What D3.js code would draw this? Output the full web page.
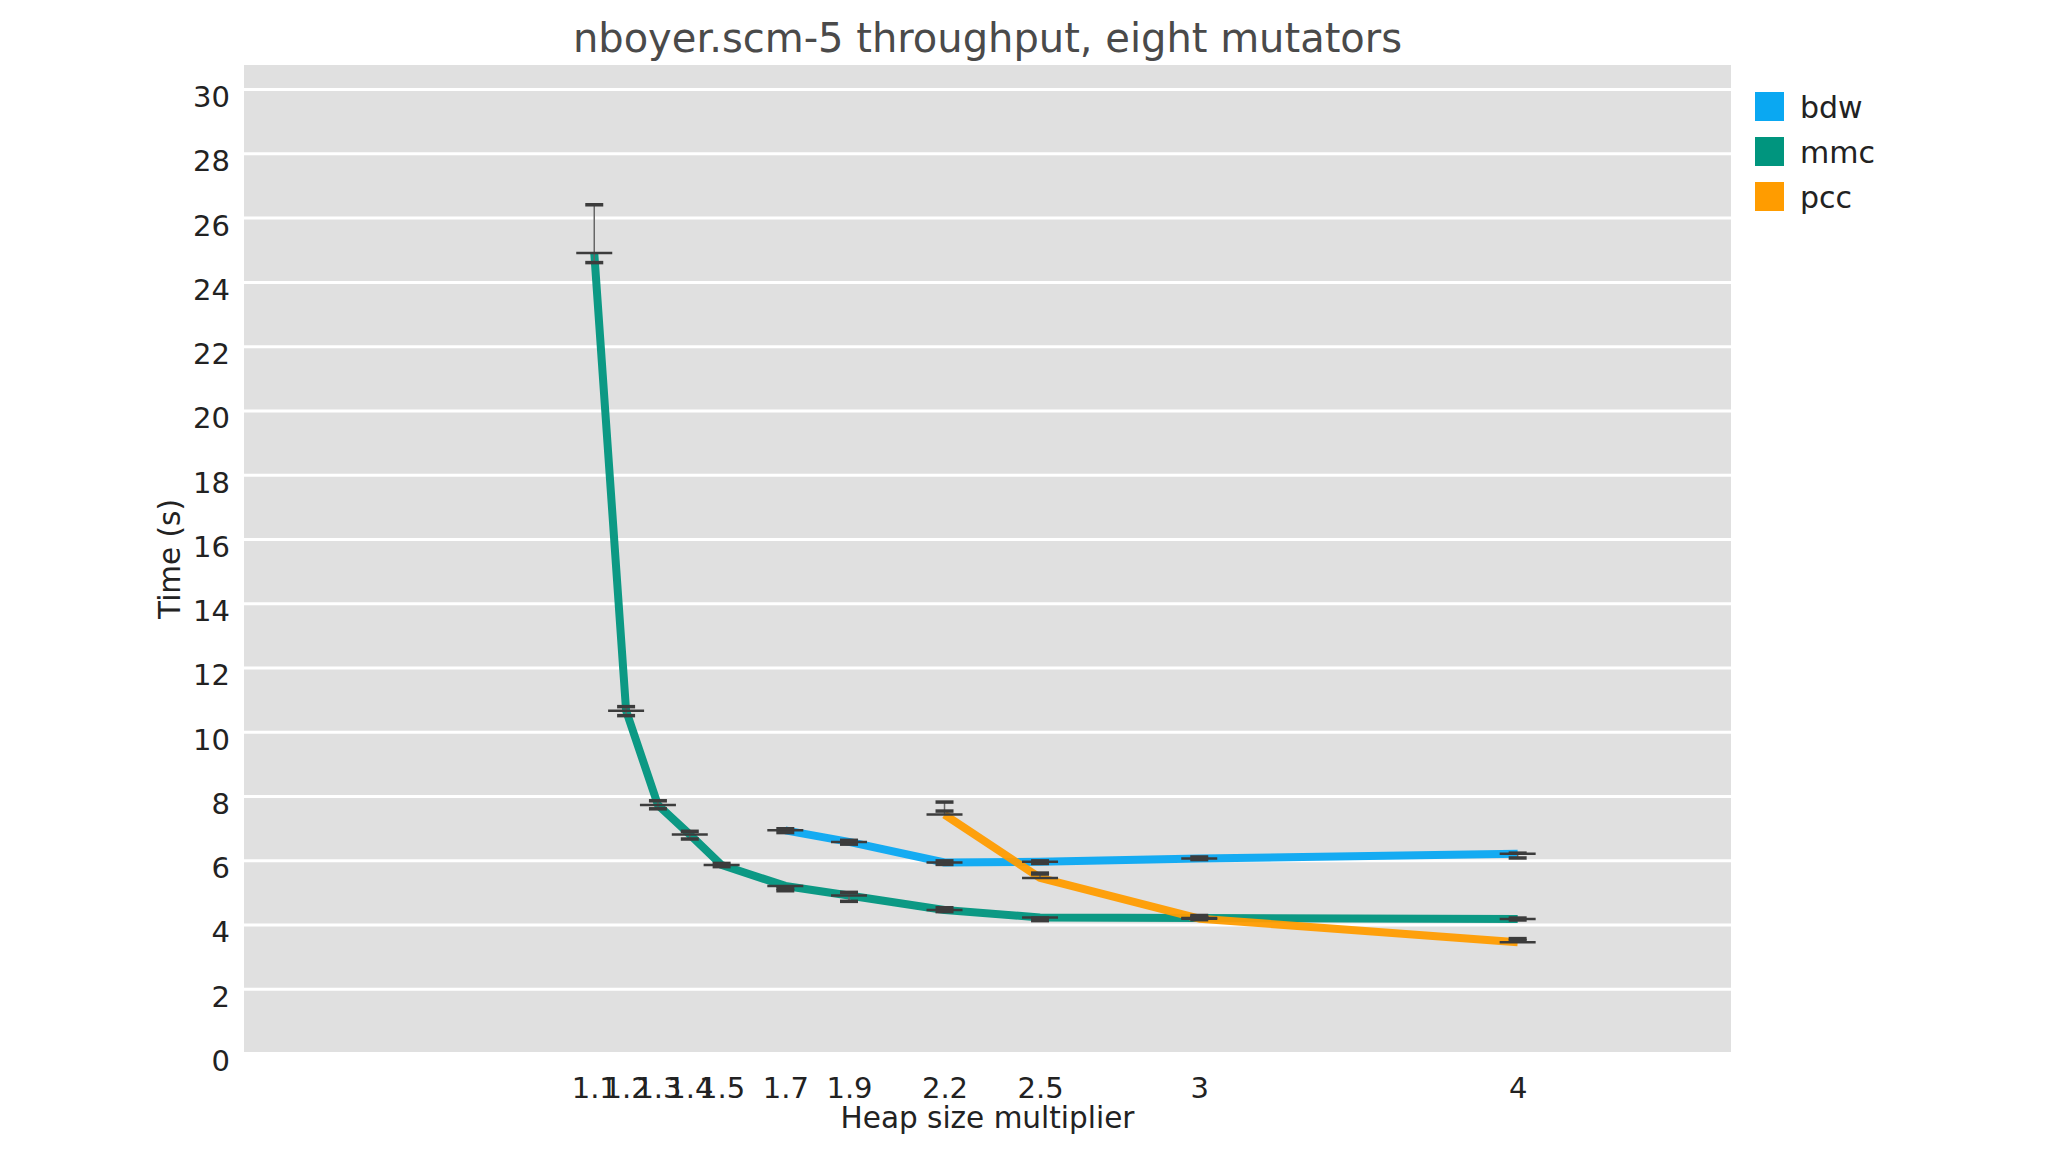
<!DOCTYPE html>
<meta charset="utf-8">
<style>
  body { margin: 0; background: #fff; }
  text { font-family: "DejaVu Sans", sans-serif; }
  .grid line { stroke: #fff; stroke-width: 3; }
  .grid path { display: none; }
  .axis path, .axis line { display: none; }
  .axis text { font-size: 29px; fill: #222; }
</style>
<body>
<script src="https://d3js.org/d3.v7.min.js"></script>
<script>

// Chart data
const heapSizes = [1.1, 1.2, 1.3, 1.4, 1.5, 1.7, 1.9, 2.2, 2.5, 3, 4];
const xTickLabels = ["1.1", "1.2", "1.3", "1.4", "1.5", "1.7", "1.9", "2.2", "2.5", "3", "4"];
const yTicks = [0, 2, 4, 6, 8, 10, 12, 14, 16, 18, 20, 22, 24, 26, 28, 30];

const seriesNames = ["bdw", "mmc", "pcc"];

const bdwX  = [1.7, 1.9, 2.2, 2.5, 3, 4];
const bdwY  = [6.93, 6.57, 5.93, 5.95, 6.05, 6.2];
const bdwLo = [6.86, 6.5, 5.87, 5.9, 6.02, 6.07];
const bdwHi = [6.98, 6.62, 5.98, 5.98, 6.1, 6.22];

const mmcX  = heapSizes;
const mmcY  = [24.9, 10.65, 7.72, 6.8, 5.85, 5.2, 4.9, 4.45, 4.22, 4.2, 4.17];
const mmcLo = [24.6, 10.5, 7.6, 6.66, 5.8, 5.05, 4.72, 4.4, 4.12, 4.15, 4.14];
const mmcHi = [26.4, 10.78, 7.85, 6.9, 5.9, 5.12, 5.0, 4.52, 4.2, 4.22, 4.2];

const pccX  = [2.2, 2.5, 3, 4];
const pccY  = [7.42, 5.45, 4.18, 3.45];
const pccLo = [7.53, 5.57, 4.22, 3.5];
const pccHi = [7.81, 5.6, 4.28, 3.56];

const colors = ["#0aa8f2", "#00957e", "#ff9c00"];

// Layout
const W = 2048, H = 1152;
const plot = {left: 244, top: 65, right: 1731, bottom: 1053};

const x = d3.scaleLinear().domain([0, 4.67]).range([plot.left, plot.right]);
const y = d3.scaleLinear().domain([0, 30.75]).range([plot.bottom, plot.top]);

const svg = d3.select("body").append("svg")
    .attr("width", W)
    .attr("height", H);

svg.append("rect")
    .attr("x", plot.left)
    .attr("y", plot.top)
    .attr("width", plot.right - plot.left)
    .attr("height", plot.bottom - plot.top)
    .attr("fill", "#e0e0e0");

// horizontal grid lines
svg.append("g")
    .attr("class", "grid")
    .attr("transform", "translate(" + plot.left + ",0)")
    .call(d3.axisLeft(y).tickValues(yTicks).tickSize(-(plot.right - plot.left)).tickFormat(""));

// y axis labels
svg.append("g")
    .attr("class", "axis")
    .attr("transform", "translate(" + (plot.left - 4) + ",3)")
    .call(d3.axisLeft(y).tickValues(yTicks).tickSize(0).tickPadding(10))
    .selectAll("text").attr("dy", "0.5em");

// x axis labels
svg.append("g")
    .attr("class", "axis")
    .attr("transform", "translate(0," + plot.bottom + ")")
    .call(d3.axisBottom(x).tickValues(heapSizes).tickSize(0).tickPadding(24)
        .tickFormat((d, i) => xTickLabels[i]));

// series
const series = [
    {name: seriesNames[0], xs: bdwX, ys: bdwY, lo: bdwLo, hi: bdwHi},
    {name: seriesNames[1], xs: mmcX, ys: mmcY, lo: mmcLo, hi: mmcHi},
    {name: seriesNames[2], xs: pccX, ys: pccY, lo: pccLo, hi: pccHi}
];

const line = d3.line()
    .x(d => x(d.x))
    .y(d => y(d.y));

series.forEach(function(s, k) {
    const pts = s.xs.map((v, i) => ({x: v, y: s.ys[i], lo: s.lo[i], hi: s.hi[i]}));
    s.pts = pts;
    svg.append("path")
        .datum(pts)
        .attr("fill", "none")
        .attr("stroke", colors[k])
        .attr("stroke-width", 8)
        .attr("stroke-opacity", 0.95)
        .attr("stroke-linejoin", "round")
        .attr("d", line);
});

// error bars on top
series.forEach(function(s) {
    const g = svg.append("g").selectAll("g").data(s.pts).enter().append("g");
    g.append("line")
        .attr("x1", d => x(d.x)).attr("x2", d => x(d.x))
        .attr("y1", d => y(Math.min(d.lo, d.y))).attr("y2", d => y(Math.max(d.hi, d.y)))
        .attr("stroke", "#666").attr("stroke-width", 1.5);
    g.append("line")
        .attr("x1", d => x(d.x) - 18).attr("x2", d => x(d.x) + 18)
        .attr("y1", d => y(d.y)).attr("y2", d => y(d.y))
        .attr("stroke", "#3c3c3c").attr("stroke-width", 2.5);
    ["lo", "hi"].forEach(function(key) {
        g.append("line")
            .attr("x1", d => x(d.x) - 9).attr("x2", d => x(d.x) + 9)
            .attr("y1", d => y(d[key])).attr("y2", d => y(d[key]))
            .attr("stroke", "#3c3c3c").attr("stroke-width", 3.5);
    });
});

// title and axis titles
svg.append("text")
    .attr("x", (plot.left + plot.right) / 2)
    .attr("y", 52)
    .attr("text-anchor", "middle")
    .style("font-size", "40px")
    .style("fill", "#4a4a4a")
    .text("nboyer.scm-5 throughput, eight mutators");

svg.append("text")
    .attr("x", (plot.left + plot.right) / 2)
    .attr("y", 1128)
    .attr("text-anchor", "middle")
    .style("font-size", "29.5px")
    .style("fill", "#222")
    .text("Heap size multiplier");

svg.append("text")
    .attr("transform", "translate(180," + ((plot.top + plot.bottom) / 2) + ") rotate(-90)")
    .attr("text-anchor", "middle")
    .style("font-size", "29.5px")
    .style("fill", "#222")
    .text("Time (s)");

// legend
const legend = svg.append("g")
    .attr("transform", "translate(1755,92)");

seriesNames.forEach(function(name, i) {
    legend.append("rect")
        .attr("x", 0)
        .attr("y", i * 45)
        .attr("width", 29)
        .attr("height", 29)
        .attr("fill", colors[i]);
    legend.append("text")
        .attr("x", 45)
        .attr("y", i * 45 + 26)
        .style("font-size", "30px")
        .style("fill", "#222")
        .text(name);
});

</script>
</body>
